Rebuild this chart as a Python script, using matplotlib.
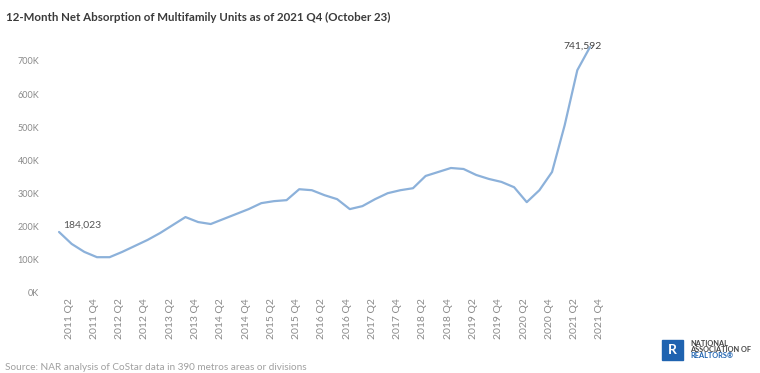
import matplotlib
matplotlib.use("Agg")
import matplotlib.pyplot as plt
from matplotlib.transforms import ScaledTranslation
from matplotlib.patches import Rectangle

plt.rcParams['font.family'] = ['Lato', 'DejaVu Sans']

# Quarterly 12-month net absorption (thousands of units)
quarters = [f"{y} Q{q}" for y in range(2011, 2022) for q in range(1, 5)][1:]
absorption_k = [
    184.023, 148, 124, 108, 108, 124, 142, 160, 181, 205, 229,
    214, 208, 223, 238, 253, 271, 277, 280, 313, 310, 295,
    283, 253, 262, 283, 301, 310, 316, 353, 365, 377, 374,
    356, 344, 335, 319, 274, 310, 365, 506, 672, 741.592,
]
ytick_vals = [0, 100, 200, 300, 400, 500, 600, 700]
ytick_labels = [f"{v}K" for v in ytick_vals]
first_label = "184,023"
last_label = "741,592"

W, H = 760, 373
fig = plt.figure(figsize=(W / 100, H / 100), dpi=100)
ax = fig.add_axes([46.4 / W, (H - 293) / H, (602.6 - 46.4) / W, (293 - 41) / H])

x = list(range(len(absorption_k)))
ax.plot(x, absorption_k, color="#8cb1da", lw=1.6, solid_joinstyle="round",
        solid_capstyle="round")

ax.set_xlim(-1, len(x))
ax.set_ylim(0, 760)

for s in ax.spines.values():
    s.set_visible(False)

ax.set_yticks(ytick_vals)
ax.set_yticklabels(ytick_labels)
ax.tick_params(axis="y", length=0, pad=5, labelsize=6.5, labelcolor="#8a8a8a")

tick_idx = [i for i, q in enumerate(quarters) if q.endswith("Q2") or q.endswith("Q4")]
ax.set_xticks(tick_idx)
ax.set_xticklabels([quarters[i] for i in tick_idx], rotation=90)
ax.tick_params(axis="x", length=0, pad=4, labelsize=7.5, labelcolor="#8a8a8a")
shift = ScaledTranslation(10 / 100, 0, fig.dpi_scale_trans)
for lbl in ax.get_xticklabels():
    lbl.set_transform(lbl.get_transform() + shift)

ax.annotate(first_label, (0, absorption_k[0]), xytext=(3, 2),
            textcoords="offset points", fontsize=7.5, color="#555555",
            ha="left", va="bottom")
ax.annotate(last_label, (x[-1], absorption_k[-1]), xytext=(-5, 1),
            textcoords="offset points", fontsize=7.5, color="#444444",
            ha="center", va="center")

fig.text(6 / W, 1 - 17 / H, "12-Month Net Absorption of Multifamily Units as of 2021 Q4 (October 23)",
         fontsize=8.3, fontweight="bold", color="#3a3a3a", ha="left", va="center")

fig.text(5 / W, 1 - 368 / H,
         "Source: NAR analysis of CoStar data in 390 metros areas or divisions",
         fontsize=7.2, color="#a0a0a0", ha="left", va="center")

# Logo block
logo = fig.add_axes([0, 0, 1, 1], facecolor="none")
logo.set_xlim(0, W)
logo.set_ylim(H, 0)
logo.axis("off")
logo.add_patch(Rectangle((662, 340), 21, 20, color="#1f63b0"))
logo.text(672.5, 350, "R", color="white", fontsize=10, fontweight="bold",
          ha="center", va="center")
logo.text(690, 343, "NATIONAL", fontsize=5.3, fontweight="bold", color="#444444",
          ha="left", va="center")
logo.text(690, 349.5, "ASSOCIATION OF", fontsize=5.3, fontweight="bold", color="#444444",
          ha="left", va="center")
logo.text(690, 356, "REALTORS®", fontsize=5.3, fontweight="bold", color="#1f63b0",
          ha="left", va="center")

fig.savefig("out.png", dpi=100)
